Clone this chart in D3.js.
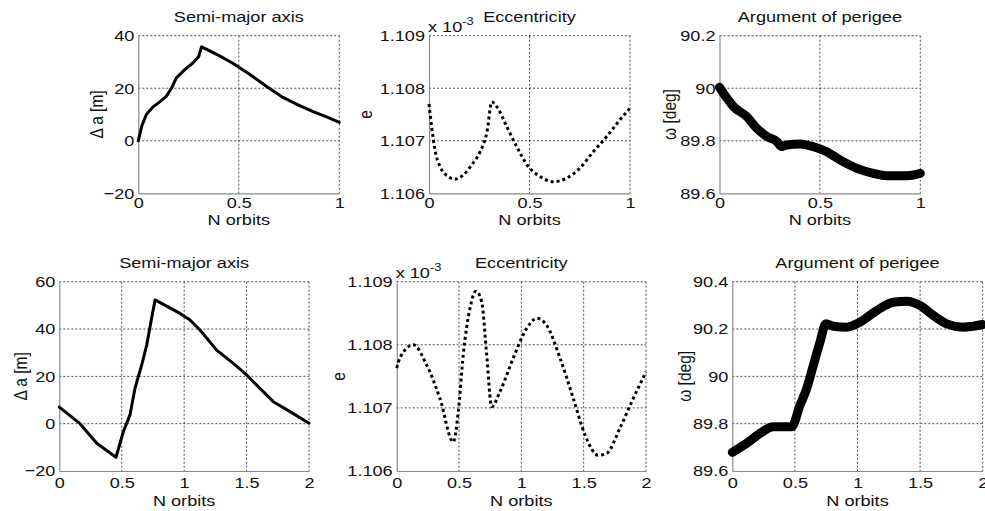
<!DOCTYPE html>
<html>
<head>
<meta charset="utf-8">
<script src="https://cdn.jsdelivr.net/npm/d3@7"></script>
<style>
body { margin: 0; background: #fff; }
svg text { font-family: "Liberation Sans", Arial, sans-serif; fill: #111; }
</style>
</head>
<body>
<svg width="985" height="511"></svg>
<script>
// values (x = N orbits)
var ticksOne = [0, 0.5, 1];
var ticksTwo = [0, 0.5, 1, 1.5, 2];

var smaTopTicks = [-20, 0, 20, 40];
var smaBotTicks = [-20, 0, 20, 40, 60];
var eccTicks = [1.106, 1.107, 1.108, 1.109];   // x 10^-3
var argTopTicks = [89.6, 89.8, 90, 90.2];
var argBotTicks = [89.6, 89.8, 90, 90.2, 90.4];

// first orbit
var smaTopX = [0, 0.017, 0.04, 0.075, 0.11, 0.14, 0.165, 0.19, 0.23, 0.27, 0.30, 0.315, 0.33, 0.40, 0.47, 0.55, 0.64, 0.72, 0.80, 0.87, 0.94, 1.0];
var smaTopY = [0, 5.5, 10, 13, 15, 17, 20, 24, 27, 29.5, 32, 35.8, 35.2, 32.5, 29.5, 25.5, 20.6, 16.5, 13.5, 11.1, 9, 7];

var eccTopX = [0, 0.013, 0.03, 0.055, 0.096, 0.129, 0.171, 0.212, 0.254, 0.29, 0.312, 0.337, 0.387, 0.436, 0.494, 0.552, 0.618, 0.685, 0.751, 0.817, 0.884, 0.95, 1.0];
var eccTopY = [1.1077, 1.10727, 1.10682, 1.10651, 1.10632, 1.10627, 1.10635, 1.10654, 1.10679, 1.10720, 1.10774, 1.10765, 1.10727, 1.10689, 1.10651, 1.10632, 1.10622, 1.10629, 1.10648, 1.10679, 1.10708, 1.10740, 1.10762];

var argTopX = [0, 0.037, 0.07, 0.136, 0.186, 0.236, 0.286, 0.31, 0.335, 0.401, 0.468, 0.534, 0.60, 0.684, 0.766, 0.833, 0.932, 1.0];
var argTopY = [90.004, 89.962, 89.930, 89.892, 89.847, 89.816, 89.797, 89.778, 89.784, 89.788, 89.777, 89.758, 89.727, 89.695, 89.676, 89.667, 89.667, 89.676];

// two orbits
var smaBotX = [0, 0.166, 0.3, 0.454, 0.513, 0.566, 0.606, 0.66, 0.70, 0.734, 0.767, 0.967, 1.047, 1.127, 1.26, 1.394, 1.501, 1.607, 1.714, 1.848, 2.0];
var smaBotY = [7, 0, -8.3, -14.2, -3.4, 3.7, 14.9, 24.8, 33.2, 43.1, 52.3, 46.6, 43.8, 39.6, 31.1, 25.5, 20.6, 14.9, 9.3, 5.1, 0.2];

var eccBotX = [0, 0.026, 0.133, 0.24, 0.347, 0.454, 0.494, 0.534, 0.588, 0.636, 0.682, 0.722, 0.762, 0.829, 0.935, 1.043, 1.123, 1.203, 1.31, 1.417, 1.511, 1.617, 1.685, 1.791, 1.898, 2.0];
var eccBotY = [1.10763, 1.10779, 1.10800, 1.10768, 1.10715, 1.10646, 1.10694, 1.10784, 1.10858, 1.10885, 1.10868, 1.10784, 1.10702, 1.10726, 1.10779, 1.10826, 1.10842, 1.10831, 1.10779, 1.10715, 1.10657, 1.10625, 1.10628, 1.10668, 1.10715, 1.10757];

var argBotX = [0, 0.115, 0.221, 0.327, 0.434, 0.474, 0.541, 0.594, 0.647, 0.70, 0.748, 0.807, 0.914, 1.02, 1.153, 1.286, 1.393, 1.499, 1.606, 1.712, 1.845, 2.0];
var argBotY = [89.679, 89.717, 89.759, 89.787, 89.787, 89.787, 89.878, 89.948, 90.046, 90.144, 90.222, 90.212, 90.208, 90.229, 90.278, 90.313, 90.317, 90.299, 90.257, 90.222, 90.208, 90.219];

var svg = d3.select("svg");
var fontSize = 15.5;
// the original picture is stretched sideways, so text is widened a bit
var stretch = 1.17;

function drawPanel(p) {
  var x = d3.scaleLinear().domain([p.xTicks[0], p.xTicks[p.xTicks.length - 1]]).range([p.left, p.right]);
  var y = d3.scaleLinear().domain([p.yTicks[0], p.yTicks[p.yTicks.length - 1]]).range([p.bottom, p.top]);
  var g = svg.append("g");

  // dotted grid
  g.selectAll(".vg").data(p.xTicks.slice(1)).enter().append("line")
      .attr("x1", function(d) { return x(d); })
      .attr("x2", function(d) { return x(d); })
      .attr("y1", p.top).attr("y2", p.bottom)
      .attr("stroke", "#000").attr("stroke-width", 0.7).attr("stroke-dasharray", "2,2");
  g.selectAll(".hg").data(p.yTicks.slice(1)).enter().append("line")
      .attr("y1", function(d) { return y(d); })
      .attr("y2", function(d) { return y(d); })
      .attr("x1", p.left).attr("x2", p.right)
      .attr("stroke", "#000").attr("stroke-width", 0.7).attr("stroke-dasharray", "2,2");

  // axes
  var ax = g.append("g")
      .attr("transform", "translate(0," + p.bottom + ")")
      .call(d3.axisBottom(x).tickValues(p.xTicks).tickSize(0).tickPadding(p.xPad).tickFormat(d3.format("")));
  var ay = g.append("g")
      .attr("transform", "translate(" + p.left + ",0)")
      .call(d3.axisLeft(y).tickValues(p.yTicks).tickSize(0).tickPadding(4).tickFormat(p.yFormat));
  [ax, ay].forEach(function(a) {
    a.attr("font-size", null).attr("font-family", null);
    a.select(".domain").attr("stroke", "#8a8a8a").attr("stroke-width", 1.2);
    a.selectAll("text").attr("font-size", fontSize).attr("fill", "#111");
  });

  // data line
  var line = d3.line()
      .x(function(d) { return x(d[0]); })
      .y(function(d) { return y(d[1]); })
      .curve(p.curve);
  g.append("path")
      .datum(d3.zip(p.xs, p.ys))
      .attr("d", line)
      .attr("fill", "none")
      .attr("stroke", "#000")
      .attr("stroke-width", p.width)
      .attr("stroke-linejoin", "round")
      .attr("stroke-linecap", p.cap)
      .attr("stroke-dasharray", p.dash);

  // title and labels
  g.append("text")
      .attr("x", (p.left + p.right) / 2).attr("y", p.top - 13.5)
      .attr("text-anchor", "middle").attr("font-size", fontSize)
      .text(p.title);
  g.append("text")
      .attr("x", (p.left + p.right) / 2).attr("y", p.bottom + p.xLabelOff)
      .attr("text-anchor", "middle").attr("font-size", fontSize)
      .text("N orbits");
  g.append("text")
      .attr("class", "ylab")
      .attr("transform", "translate(" + (p.left - p.yLabelOff) + "," + ((p.top + p.bottom) / 2) + ") scale(" + stretch + ",1) rotate(-90)")
      .attr("text-anchor", "middle").attr("dy", "0.35em").attr("font-size", fontSize)
      .text(p.yLabel);

  if (p.exponent) {
    var t = g.append("text")
        .attr("x", p.left - 1).attr("y", p.top - 4)
        .attr("font-size", fontSize);
    t.append("tspan").text("x 10");
    t.append("tspan").attr("dy", -7).attr("font-size", 11).text("-3");
  }
}

var topRow = { top: 35.7, bottom: 193.3, xPad: 3.5, xLabelOff: 31.5 };
var botRow = { top: 281.7, bottom: 471, xPad: 6, xLabelOff: 35 };

var panels = [
  Object.assign({ left: 138.3, right: 339.3, xTicks: ticksOne, yTicks: smaTopTicks, xs: smaTopX, ys: smaTopY,
    title: "Semi-major axis", yLabel: "\u0394 a [m]", yLabelOff: 42, yFormat: d3.format(""),
    curve: d3.curveLinear, width: 3, cap: "round", dash: null }, topRow),
  Object.assign({ left: 429, right: 630, xTicks: ticksOne, yTicks: eccTicks, xs: eccTopX, ys: eccTopY,
    title: "Eccentricity", yLabel: "e", yLabelOff: 63, yFormat: d3.format(".3f"),
    curve: d3.curveMonotoneX, width: 3, cap: "butt", dash: "3,3", exponent: true }, topRow),
  Object.assign({ left: 719.5, right: 920.3, xTicks: ticksOne, yTicks: argTopTicks, xs: argTopX, ys: argTopY,
    title: "Argument of perigee", yLabel: "\u03c9 [deg]", yLabelOff: 50, yFormat: d3.format(""),
    curve: d3.curveMonotoneX, width: 9, cap: "round", dash: null }, topRow),
  Object.assign({ left: 59.3, right: 309, xTicks: ticksTwo, yTicks: smaBotTicks, xs: smaBotX, ys: smaBotY,
    title: "Semi-major axis", yLabel: "\u0394 a [m]", yLabelOff: 39, yFormat: d3.format(""),
    curve: d3.curveLinear, width: 3, cap: "round", dash: null }, botRow),
  Object.assign({ left: 396.7, right: 646, xTicks: ticksTwo, yTicks: eccTicks, xs: eccBotX, ys: eccBotY,
    title: "Eccentricity", yLabel: "e", yLabelOff: 58, yFormat: d3.format(".3f"),
    curve: d3.curveMonotoneX, width: 3, cap: "butt", dash: "3,3", exponent: true }, botRow),
  Object.assign({ left: 732.3, right: 982.7, xTicks: ticksTwo, yTicks: argBotTicks, xs: argBotX, ys: argBotY,
    title: "Argument of perigee", yLabel: "\u03c9 [deg]", yLabelOff: 48, yFormat: d3.format(""),
    curve: d3.curveMonotoneX, width: 9, cap: "round", dash: null }, botRow)
];

panels.forEach(drawPanel);

// widen every upright text around its own anchor
svg.selectAll("text:not(.ylab)").each(function() {
  var ax = +this.getAttribute("x") || 0;
  this.setAttribute("transform", "translate(" + ax + ",0) scale(" + stretch + ",1) translate(" + (-ax) + ",0)");
});
</script>
</body>
</html>
